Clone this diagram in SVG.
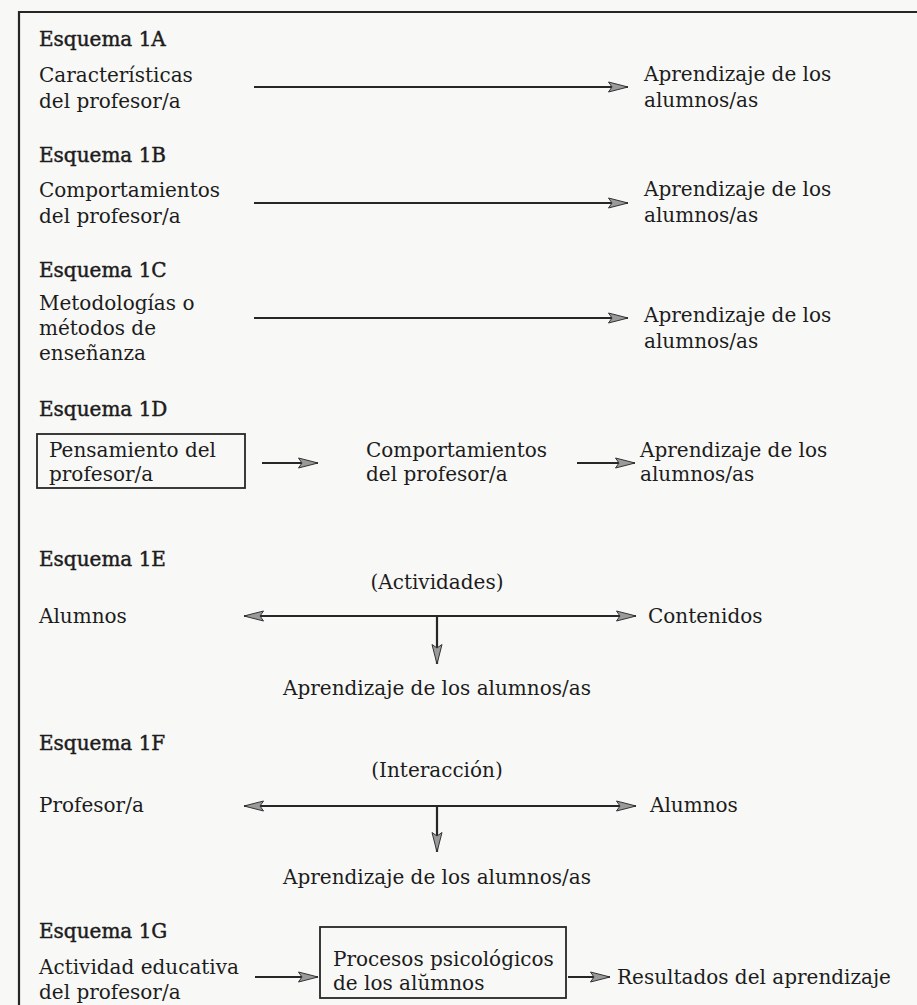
<svg xmlns="http://www.w3.org/2000/svg" width="917" height="1005" viewBox="0 0 917 1005">
<defs>
<style>
text{font-family:"DejaVu Serif","Liberation Serif",serif;font-size:20px;fill:#1c1c1c}
.h{stroke:#1c1c1c;stroke-width:0.45px}
.c{text-anchor:middle}
.ln{stroke:#262626;stroke-width:2.2;fill:none}
.box{fill:none;stroke:#262626;stroke-width:1.8}
</style>
<marker id="ah" markerUnits="userSpaceOnUse" markerWidth="22" markerHeight="12" refX="20" refY="6" orient="auto-start-reverse">
<path d="M0.5,1 L20,6 L0.5,11 L4,6 Z" fill="#9a9a9a" stroke="#333" stroke-width="1"/>
</marker>
</defs>
<rect width="917" height="1005" fill="#f8f8f6"/>
<g id="frame">
<path class="ln" d="M19,1005 V12 H917"/>
</g>
<g id="connectors">
<line class="ln" x1="254" y1="87" x2="628" y2="87" marker-end="url(#ah)"/>
<line class="ln" x1="254" y1="203" x2="628" y2="203" marker-end="url(#ah)"/>
<line class="ln" x1="254" y1="318" x2="628" y2="318" marker-end="url(#ah)"/>
<line class="ln" x1="262" y1="463" x2="318" y2="463" marker-end="url(#ah)"/>
<line class="ln" x1="577" y1="463" x2="635" y2="463" marker-end="url(#ah)"/>
<line class="ln" x1="244" y1="616" x2="636" y2="616" marker-start="url(#ah)" marker-end="url(#ah)"/>
<line class="ln" x1="437" y1="616" x2="437" y2="664" marker-end="url(#ah)"/>
<line class="ln" x1="244" y1="806" x2="636" y2="806" marker-start="url(#ah)" marker-end="url(#ah)"/>
<line class="ln" x1="437" y1="806" x2="437" y2="852" marker-end="url(#ah)"/>
<line class="ln" x1="255" y1="977" x2="318" y2="977" marker-end="url(#ah)"/>
<line class="ln" x1="568" y1="977" x2="610" y2="977" marker-end="url(#ah)"/>
</g>
<g id="esquema1A">
<text class="h" x="39" y="46">Esquema 1A</text>
<text x="39" y="82">Características</text>
<text x="39" y="108">del profesor/a</text>
<text x="644" y="81">Aprendizaje de los</text>
<text x="644" y="107">alumnos/as</text>
</g>
<g id="esquema1B">
<text class="h" x="39" y="162">Esquema 1B</text>
<text x="39" y="197">Comportamientos</text>
<text x="39" y="223">del profesor/a</text>
<text x="644" y="196">Aprendizaje de los</text>
<text x="644" y="222">alumnos/as</text>
</g>
<g id="esquema1C">
<text class="h" x="39" y="277">Esquema 1C</text>
<text x="39" y="310">Metodologías o</text>
<text x="39" y="335">métodos de</text>
<text x="39" y="360">enseñanza</text>
<text x="644" y="322">Aprendizaje de los</text>
<text x="644" y="348">alumnos/as</text>
</g>
<g id="esquema1D">
<text class="h" x="39" y="416">Esquema 1D</text>
<rect class="box" x="37" y="434" width="208" height="54"/>
<text x="49" y="457">Pensamiento del</text>
<text x="49" y="481">profesor/a</text>
<text x="366" y="457">Comportamientos</text>
<text x="366" y="481">del profesor/a</text>
<text x="640" y="457">Aprendizaje de los</text>
<text x="640" y="481">alumnos/as</text>
</g>
<g id="esquema1E">
<text class="h" x="39" y="566">Esquema 1E</text>
<text class="c" x="437" y="589">(Actividades)</text>
<text x="39" y="623">Alumnos</text>
<text x="648" y="623">Contenidos</text>
<text class="c" x="437" y="695">Aprendizaje de los alumnos/as</text>
</g>
<g id="esquema1F">
<text class="h" x="39" y="750">Esquema 1F</text>
<text class="c" x="437" y="777">(Interacción)</text>
<text x="39" y="812">Profesor/a</text>
<text x="650" y="812">Alumnos</text>
<text class="c" x="437" y="884">Aprendizaje de los alumnos/as</text>
</g>
<g id="esquema1G">
<text class="h" x="39" y="938">Esquema 1G</text>
<text x="39" y="974">Actividad educativa</text>
<text x="39" y="999">del profesor/a</text>
<rect class="box" x="320" y="927" width="246" height="71"/>
<text x="333" y="966">Procesos psicológicos</text>
<text x="333" y="990">de los alŭmnos</text>
<text x="617" y="984">Resultados del aprendizaje</text>
</g>
</svg>
